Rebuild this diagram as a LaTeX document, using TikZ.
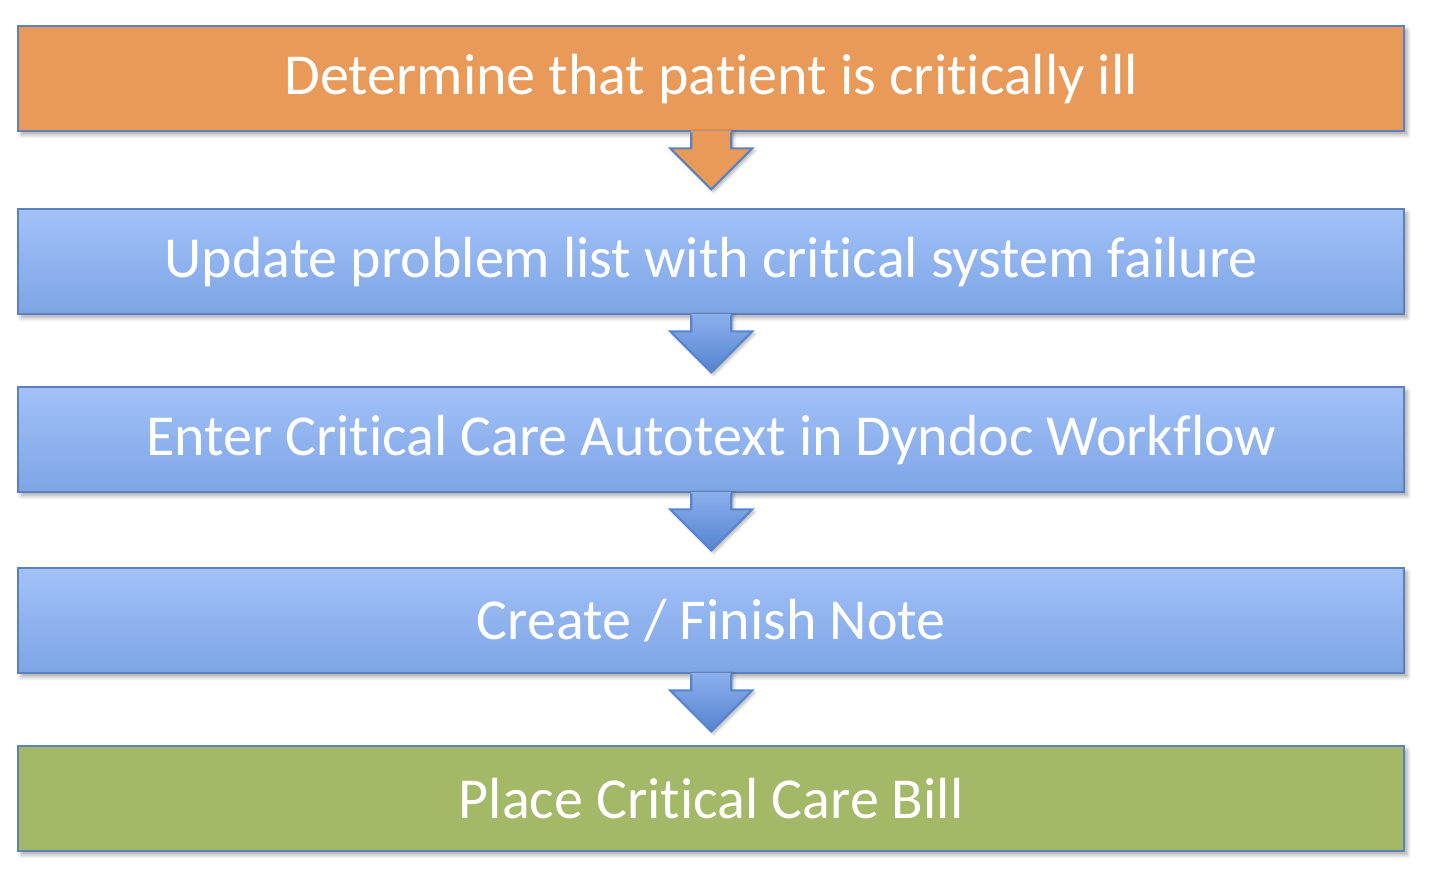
\documentclass[tikz,border=0pt]{standalone}
\usepackage{fontspec}
\setmainfont[Ligatures={NoCommon}]{Carlito}
\usetikzlibrary{calc,shadows.blur}
\definecolor{bordblue}{HTML}{5B82BE}
\definecolor{orangef}{HTML}{E99A58}
\definecolor{greenf}{HTML}{A3B968}
\definecolor{bluetop}{HTML}{A2C1F8}
\definecolor{bluebot}{HTML}{7DA5E5}
\definecolor{arrtop}{HTML}{8CB0EE}
\definecolor{arrbot}{HTML}{5584CF}
\tikzset{
  stepbox/.style={draw=bordblue, line width=1.2pt, minimum width=693pt, minimum height=52.5pt,
    inner sep=0pt, anchor=north west, font=\fontsize{29}{33}\selectfont, text=white,
    blur shadow={shadow xshift=1.5pt, shadow yshift=-1.8pt, shadow blur steps=6, shadow opacity=35, shadow blur radius=2pt}},
  orangebox/.style={stepbox, fill=orangef},
  bluebox/.style={stepbox, top color=bluetop, bottom color=bluebot},
  greenbox/.style={stepbox, fill=greenf},
}
\newcommand{\downarr}[3]{%
  % #1 from node, #2 fill options, #3 border colour
  \coordinate (s) at (#1.south);
  \fill[#2, blur shadow={shadow xshift=1.2pt, shadow yshift=-1.2pt, shadow blur steps=5, shadow opacity=30, shadow blur radius=1.5pt}]
    ($(s)+(-10pt,1pt)$) -- ($(s)+(-10pt,-8pt)$) -- ($(s)+(-20.5pt,-8pt)$) -- ($(s)+(0pt,-28.5pt)$)
    -- ($(s)+(20.5pt,-8pt)$) -- ($(s)+(10pt,-8pt)$) -- ($(s)+(10pt,1pt)$) -- cycle;
  \draw[#3, line width=1.1pt, line join=miter]
    ($(s)+(-10pt,0pt)$) -- ($(s)+(-10pt,-8pt)$) -- ($(s)+(-20.5pt,-8pt)$) -- ($(s)+(0pt,-28.5pt)$)
    -- ($(s)+(20.5pt,-8pt)$) -- ($(s)+(10pt,-8pt)$) -- ($(s)+(10pt,0pt)$);
}
\begin{document}
\begin{tikzpicture}[x=0.5pt,y=-0.5pt]
\useasboundingbox (0,0) rectangle (1432,876);
\node[orangebox] (b1) at (17,25) {Determine that patient is critically ill};
\node[bluebox] (b2) at (17,208) {Update problem list with critical system failure};
\node[bluebox] (b3) at (17,386) {Enter Critical Care Autotext in Dyndoc Workflow};
\node[bluebox] (b4) at (17,567) {Create / Finish Note};
\node[greenbox] (b5) at (17,745) {Place Critical Care Bill};
\downarr{b1}{fill=orangef}{bordblue}
\downarr{b2}{top color=arrtop, bottom color=arrbot}{arrbot!90!bordblue}
\downarr{b3}{top color=arrtop, bottom color=arrbot}{arrbot!90!bordblue}
\downarr{b4}{top color=arrtop, bottom color=arrbot}{arrbot!90!bordblue}
\end{tikzpicture}
\end{document}
